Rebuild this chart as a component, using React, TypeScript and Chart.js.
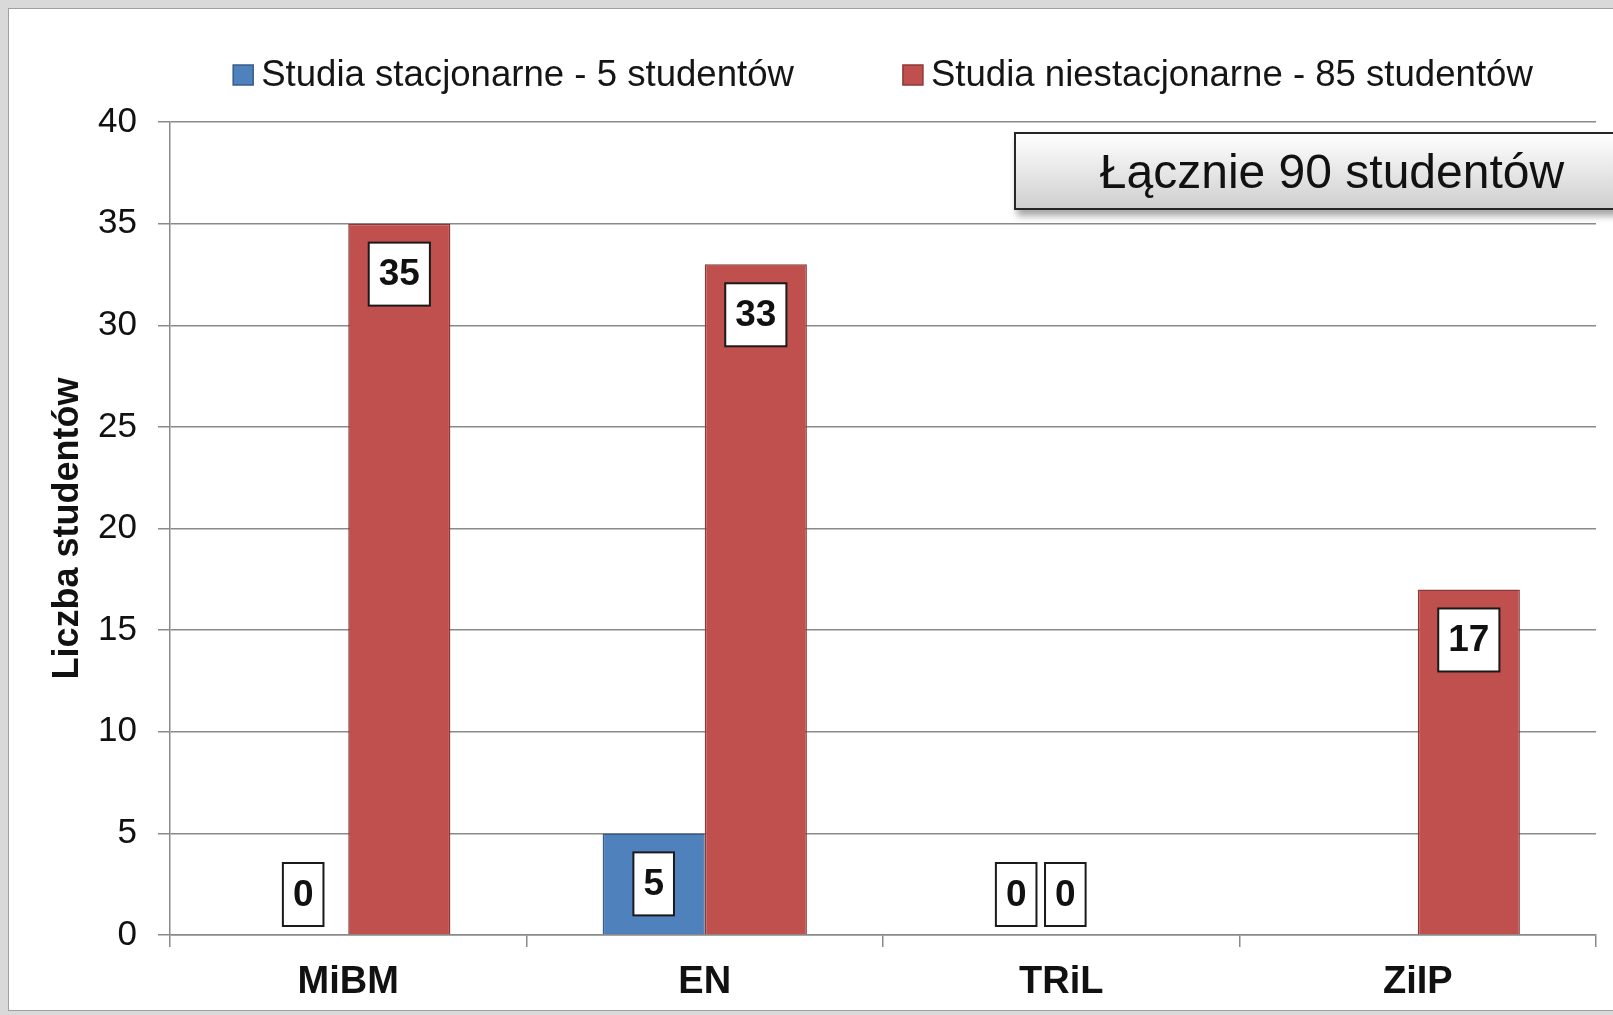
import React, { useEffect, useRef } from "react";
import { Chart, registerables } from "chart.js";

Chart.register(...registerables);

const categories = ["MiBM", "EN", "TRiL", "ZiIP"];
const stacjonarne: (number | null)[] = [0, 5, 0, null];
const niestacjonarne: (number | null)[] = [35, 33, 0, 17];
const seriesLabels = ["Studia stacjonarne - 5 studentów", "Studia niestacjonarne - 85 studentów"];
const yTickMax = 40;
const yTickStep = 5;
const totalLabel = "Łącznie 90 studentów";
const yTitle = "Liczba studentów";

const FONT = "'Liberation Sans', Arial, Helvetica, sans-serif";
const GRID = "#8a8a8a";

const zeroShift = [6, -47];

const valueBoxPlugin = {
  id: "valueBoxes",
  afterDatasetsDraw(chart: any) {
    const ctx = chart.ctx;
    ctx.save();
    ctx.font = `bold 37px ${FONT}`;
    chart.data.datasets.forEach((ds: any, di: number) => {
      const meta = chart.getDatasetMeta(di);
      meta.data.forEach((bar: any, i: number) => {
        const v = ds.data[i];
        if (v === null || v === undefined) return;
        const text = String(v);
        const tw = ctx.measureText(text).width;
        const w = tw + 20;
        const h = 63;
        let cx = bar.x;
        let top: number;
        if (v > 0) {
          top = bar.y + 19;
        } else {
          top = bar.base - 9 - h;
          cx = bar.x + zeroShift[di];
        }
        ctx.fillStyle = "#ffffff";
        ctx.fillRect(cx - w / 2, top, w, h);
        ctx.lineWidth = 2;
        ctx.strokeStyle = "#1a1a1a";
        ctx.strokeRect(cx - w / 2, top, w, h);
        ctx.fillStyle = "#111111";
        ctx.textAlign = "center";
        ctx.textBaseline = "middle";
        ctx.fillText(text, cx, top + h / 2 + 1);
      });
    });
    ctx.restore();
  },
};

const legendPlugin = {
  id: "topLegend",
  afterDraw(chart: any) {
    const ctx = chart.ctx;
    ctx.save();
    ctx.font = `36.6px ${FONT}`;
    const items = chart.data.datasets.map((ds: any) => ({
      text: ds.label,
      fill: ds.backgroundColor,
      stroke: ds.borderColor,
    }));
    const box = 20;
    const gapText = 8;
    const gapItem = 109;
    const widths = items.map((it: any) => box + gapText + ctx.measureText(it.text).width);
    const total = widths.reduce((a: number, b: number) => a + b, 0) + gapItem * (items.length - 1);
    let x = (chart.chartArea.left + chart.chartArea.right) / 2 - total / 2;
    const y = 75;
    items.forEach((it: any, k: number) => {
      ctx.fillStyle = it.fill;
      ctx.fillRect(x, y - box / 2, box, box);
      ctx.lineWidth = 1.5;
      ctx.strokeStyle = it.stroke;
      ctx.strokeRect(x, y - box / 2, box, box);
      ctx.fillStyle = "#151515";
      ctx.textAlign = "left";
      ctx.textBaseline = "middle";
      ctx.fillText(it.text, x + box + gapText, y + 1);
      x += widths[k] + gapItem;
    });
    ctx.restore();
  },
};

export default function App() {
  const ref = useRef<HTMLCanvasElement | null>(null);

  useEffect(() => {
    if (!ref.current) return;
    Chart.defaults.font.family = FONT;
    const chart = new Chart(ref.current, {
      type: "bar",
      data: {
        labels: categories,
        datasets: [
          {
            label: seriesLabels[0],
            data: stacjonarne,
            backgroundColor: "#4f81bd",
            borderColor: "#385d8a",
            borderWidth: 1.5,
            barPercentage: 1,
            categoryPercentage: 0.573,
          },
          {
            label: seriesLabels[1],
            data: niestacjonarne,
            backgroundColor: "#c0504d",
            borderColor: "#8c3836",
            borderWidth: 1.5,
            barPercentage: 1,
            categoryPercentage: 0.573,
          },
        ],
      },
      options: {
        animation: false,
        responsive: false,
        maintainAspectRatio: false,
        layout: { padding: { top: 122, right: 17, left: 0, bottom: 0 } },
        plugins: {
          legend: { display: false },
          tooltip: { enabled: false },
          title: { display: false },
        },
        scales: {
          x: {
            grid: {
              display: true,
              drawOnChartArea: false,
              drawTicks: true,
              tickLength: 12,
              color: GRID,
              lineWidth: 1.5,
              offset: true,
            },
            border: { display: true, color: GRID, width: 1.5 },
            ticks: {
              font: { size: 38, weight: "bold" },
              color: "#111111",
              padding: 13,
            },
            afterFit: (s: any) => {
              s.height = 80;
            },
          },
          y: {
            min: 0,
            max: yTickMax,
            ticks: {
              stepSize: yTickStep,
              font: { size: 35 },
              color: "#111111",
              padding: 21,
            },
            grid: { color: GRID, lineWidth: 1.5, tickLength: 12 },
            border: { display: true, color: GRID, width: 1.5 },
            title: {
              display: true,
              text: yTitle,
              font: { size: 36, weight: "bold" },
              color: "#111111",
              padding: { top: 46, bottom: 0 },
            },
            afterFit: (s: any) => {
              s.width = 170;
            },
          },
        },
      },
      plugins: [valueBoxPlugin, legendPlugin],
    } as any);
    return () => chart.destroy();
  }, []);

  return (
    <div
      style={{
        position: "fixed",
        left: 0,
        top: 0,
        width: 1613,
        height: 1015,
        background: "#d9d9d9",
        overflow: "hidden",
      }}
    >
      <div
        style={{
          position: "absolute",
          left: 8,
          top: 8,
          width: 1700,
          height: 1003,
          background: "#ffffff",
          border: "1px solid #a0a0a0",
          boxSizing: "border-box",
        }}
      />
      <canvas
        ref={ref}
        width={1613}
        height={1015}
        style={{ position: "absolute", left: 0, top: 0, width: 1613, height: 1015 }}
      />
      <div
        style={{
          position: "absolute",
          left: 1014,
          top: 132,
          width: 636,
          height: 78,
          boxSizing: "border-box",
          border: "2px solid #262626",
          background: "linear-gradient(#ffffff, #cfcfcf)",
          boxShadow: "3px 6px 7px rgba(0,0,0,0.35)",
          display: "flex",
          alignItems: "center",
          justifyContent: "center",
          fontFamily: FONT,
          fontSize: 48,
          color: "#111111",
          whiteSpace: "nowrap",
        }}
      >
        {totalLabel}
      </div>
    </div>
  );
}
